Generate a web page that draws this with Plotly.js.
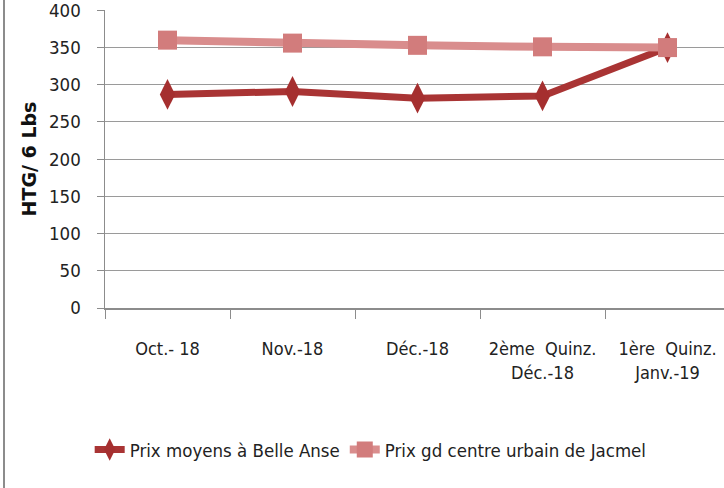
<!DOCTYPE html>
<html>
<head>
<meta charset="utf-8">
<script src="https://cdn.plot.ly/plotly-3.0.1.min.js"></script>
<style>
html,body{margin:0;padding:0;background:#fff;}
#wrap{position:relative;width:724px;height:488px;overflow:hidden;}
#frame{position:absolute;left:3px;top:0;width:2px;height:488px;background:#8c8c8c;}
#chart{position:absolute;left:0;top:0;width:724px;height:488px;}
</style>
</head>
<body>
<div id="wrap"><div id="chart"></div><div id="frame"></div></div>
<script>
const categories = ["Oct.- 18", "Nov.-18", "Déc.-18", "2ème\u00a0\u00a0Quinz.<br>Déc.-18", "1ère\u00a0\u00a0Quinz.<br>Janv.-19"];
const belleAnse = [287, 291, 282, 285, 350];
const jacmel = [360, 356, 353, 351, 350];
const yTicks = [0, 50, 100, 150, 200, 250, 300, 350, 400];
const seriesNames = ["Prix moyens à Belle Anse", "Prix gd centre urbain de Jacmel"];

const font = "DejaVu Sans Condensed, Liberation Sans Narrow, sans-serif";

const traces = [
  {
    x: categories, y: belleAnse, name: seriesNames[0], type: "scatter", mode: "lines+markers",
    legendgroup: "a",
    line: {color: "#A93434", width: 7},
    marker: {symbol: "diamond-tall", size: 22, color: "#A52F2F"}
  },
  {
    x: categories, y: jacmel, name: seriesNames[1], type: "scatter", mode: "lines+markers",
    legendgroup: "b",
    line: {color: "#D98D8D", width: 8},
    marker: {symbol: "square", size: 19, color: "#D27C7C"}
  }
];

const layout = {
  width: 724, height: 488,
  margin: {l: 105, r: 0, t: 10, b: 180},
  paper_bgcolor: "#ffffff", plot_bgcolor: "#ffffff",
  font: {family: font, size: 18, color: "#222"},
  showlegend: true,
  legend: {
    orientation: "h", x: 0.512, xanchor: "center", xref: "container",
    y: 0.078, yanchor: "middle", yref: "container",
    font: {family: font, size: 18.5, color: "#222"},
    traceorder: "grouped", tracegroupgap: 30
  },
  xaxis: {
    type: "category", range: [-0.5, 4.452],
    showgrid: false, showline: true, linecolor: "#8c8c8c", linewidth: 1.5,
    ticks: "outside", tickson: "boundaries", ticklen: 9, tickcolor: "#8c8c8c",
    ticklabelstandoff: 24, tickangle: 0,
    tickfont: {family: font, size: 18, color: "#222"},
    zeroline: false
  },
  yaxis: {
    range: [0, 400.5], tickvals: yTicks, ticktext: yTicks.map(String),
    showgrid: true, gridcolor: "#9a9a9a", gridwidth: 1,
    showline: true, linecolor: "#8c8c8c", linewidth: 1.5,
    ticks: "outside", ticklen: 7, tickcolor: "#8c8c8c",
    ticklabelstandoff: 12, ticklabeloverflow: "allow",
    tickfont: {family: font, size: 18.5, color: "#222"},
    zeroline: false,
    title: {text: "HTG/ 6 Lbs", standoff: 7, font: {family: "DejaVu Sans, sans-serif", size: 19, color: "#111", weight: "bold"}}
  }
};

Plotly.newPlot("chart", traces, layout, {displayModeBar: false, staticPlot: true});
</script>
</body>
</html>
